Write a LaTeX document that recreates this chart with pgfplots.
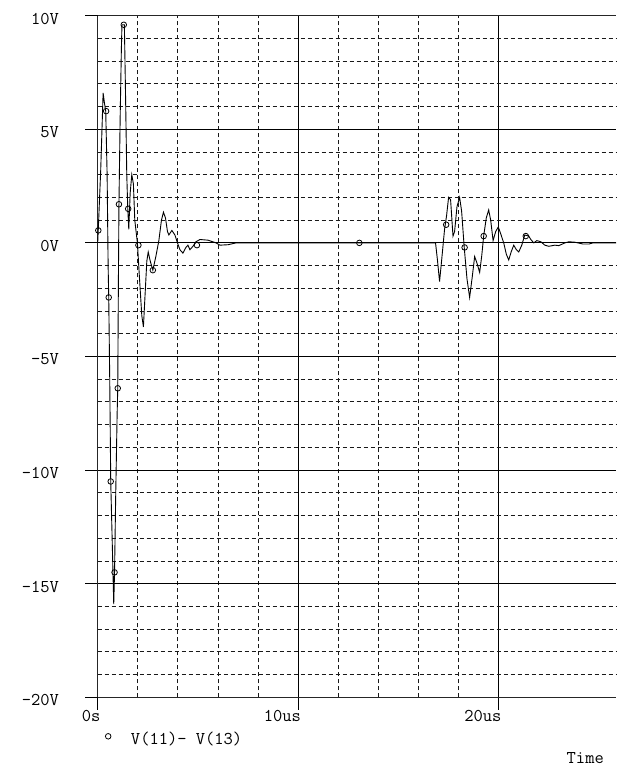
\documentclass[border=0pt]{standalone}
\usepackage{pgfplots}
\pgfplotsset{compat=1.18}
\newcommand{\pf}{\fontsize{18}{20}\selectfont\ttfamily}
\begin{document}
\begin{tikzpicture}
\begin{axis}[
  at={(0,0)}, anchor=south west,
  scale only axis, width=518.3pt, height=681.6pt,
  xmin=0, xmax=25.85, ymin=-20, ymax=10,
  axis x line=box, axis y line=left,
  axis line style={-, line width=1.1pt, black!85},
  xtick={0,10,20}, xticklabels={0s,10us,20us},
  ytick={-20,-15,...,10}, yticklabels={-20V,-15V,-10V,-5V,0V,5V,10V},
  minor x tick num=4, minor y tick num=4,
  grid=both,
  major grid style={black, line width=0.9pt},
  minor grid style={black!90, line width=0.9pt, dash pattern=on 4pt off 3pt},
  tick pos=left, tick align=outside,
  major tick length=12.5pt, minor tick length=0pt,
  every tick/.style={black, line width=1.1pt},
  tick label style={font=\pf, inner sep=0pt},
  xticklabel style={anchor=north east, xshift=3pt},
  yticklabel style={anchor=east, xshift=-26pt, yshift=-3pt},
  xlabel={Time},
  xlabel style={at={(rel axis cs:1,0)}, anchor=base east, xshift=-12pt, yshift=-66.5pt, font=\pf, inner sep=0pt},
  clip=false,
  legend style={at={(rel axis cs:0,0)}, anchor=west, xshift=7.5pt, yshift=-42pt,
    draw=none, fill=none, inner sep=0pt, font=\pf, nodes={inner sep=0pt}, column sep=20pt},
  legend image code/.code={\draw[#1] plot coordinates {(0pt,0.3em)};},
]
\addplot[black, line width=0.9pt, sharp plot, forget plot] coordinates {
(0,0) (0.03,0.6) (0.15,3.2) (0.27,6.6) (0.33,6.2) (0.4,5.8) (0.47,3) (0.52,-1) (0.55,-2.4)
(0.6,-6) (0.65,-10.5) (0.72,-13) (0.8,-15.9) (0.84,-14.5) (0.9,-11) (0.97,-7.5) (1.0,-6.4)
(1.03,-2) (1.06,1.7) (1.12,5.5) (1.18,8.5) (1.21,9.6) (1.33,9.6) (1.38,7) (1.45,3) (1.5,1.5)
(1.55,0.6) (1.62,2.2) (1.7,3.0) (1.78,2.6) (1.85,1) (1.98,0) (2.08,-1.5) (2.2,-3.2) (2.28,-3.7)
(2.35,-2.5) (2.45,-0.8) (2.52,-0.4) (2.62,-0.8) (2.75,-1.2) (2.9,-0.6) (3.05,0.1) (3.18,1.0)
(3.28,1.35) (3.38,1.1) (3.48,0.5) (3.55,0.35) (3.7,0.55) (3.85,0.35) (3.98,0) (4.1,-0.3)
(4.25,-0.45) (4.4,-0.2) (4.5,-0.1) (4.6,-0.3) (4.75,-0.15) (4.9,0.05) (5.1,0.15) (5.5,0.12)
(5.9,0) (6.1,-0.1) (6.5,-0.08) (6.9,0) (16.85,0)
(16.95,-0.8) (17.05,-1.7) (17.15,-0.8) (17.3,0.6) (17.4,1.2) (17.5,2.0) (17.6,1.9) (17.72,0.3)
(17.8,0.5) (17.92,1.6) (18.05,2.0) (18.15,1.4) (18.28,-0.2) (18.42,-1.6) (18.55,-2.4) (18.68,-1.5)
(18.8,-0.6) (18.92,-0.9) (19.05,-1.3) (19.15,-0.6) (19.25,0.3) (19.38,1.1) (19.5,1.45) (19.6,1.0)
(19.72,0.1) (19.85,0.5) (19.98,0.7) (20.1,0.4) (20.25,0) (20.38,-0.5) (20.5,-0.75) (20.62,-0.4)
(20.75,-0.1) (20.88,-0.3) (21.0,-0.4) (21.15,-0.1) (21.3,0.35) (21.5,0.3) (21.6,0.15) (21.75,0)
(21.9,0.1) (22.1,0.05) (22.3,-0.1) (22.5,-0.15) (22.8,-0.1) (23.0,-0.12) (23.3,0.0) (23.5,0.05)
(23.8,0.03) (24.2,-0.05) (24.5,-0.05) (24.7,0) (25.85,0)
};
\addplot[only marks, mark=o, mark size=2.8pt, mark options={line width=0.8pt, black}] coordinates {
(0.03,0.55) (0.42,5.8) (0.55,-2.4) (0.65,-10.5) (0.84,-14.5) (1.0,-6.4) (1.06,1.7) (1.3,9.6)
(1.52,1.5) (2.03,-0.1) (2.75,-1.2) (4.95,-0.1) (13.05,0) (17.38,0.8) (18.3,-0.2) (19.25,0.3) (21.35,0.3)
};
\addlegendentry{V(11)- V(13)}
\end{axis}
\pgfresetboundingbox
\path (-97.7pt,-69.7pt) rectangle (518.3pt,697.3pt);
\end{tikzpicture}
\end{document}
